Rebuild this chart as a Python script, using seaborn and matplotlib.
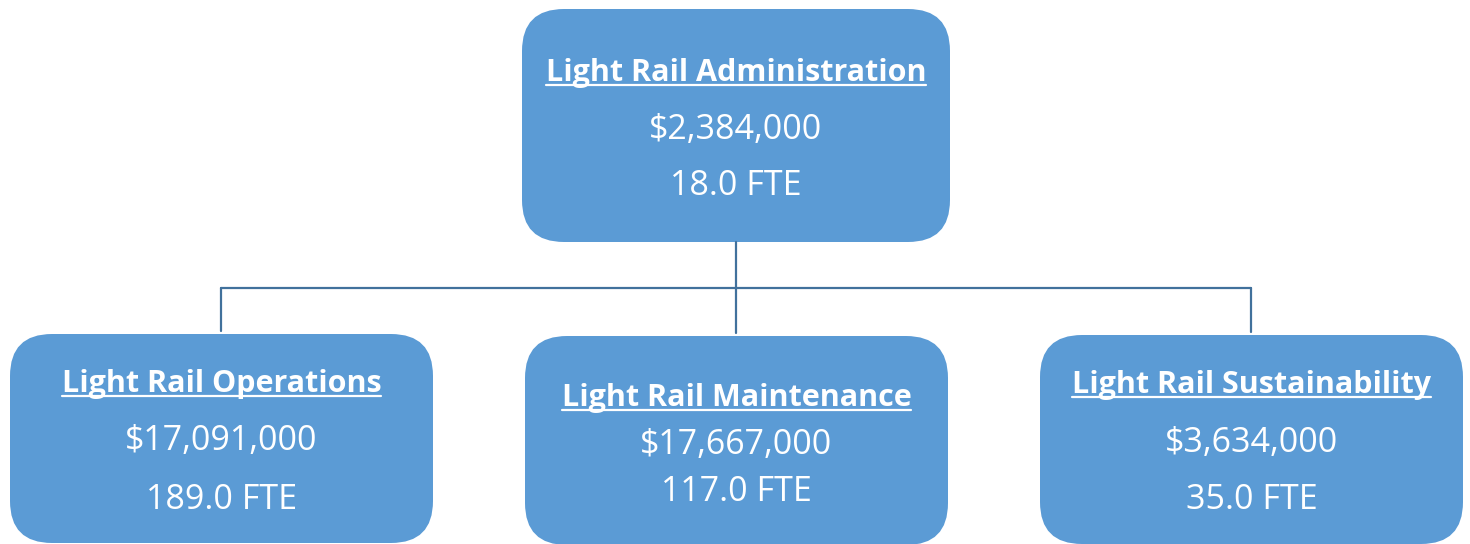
import matplotlib
matplotlib.use("Agg")
import matplotlib.pyplot as plt
from matplotlib.patches import FancyBboxPatch
import seaborn as sns

# --- data ---
units = ["Light Rail Administration", "Light Rail Operations",
         "Light Rail Maintenance", "Light Rail Sustainability"]
budgets = [2384000, 17091000, 17667000, 3634000]
ftes = [18.0, 189.0, 117.0, 35.0]
parent = [None, 0, 0, 0]

# --- layout (pixel space) ---
box_w, box_h = 428, 233
child_w, child_h = 423, 209
box_x = [522, 10, 525, 1040]
box_y = [9, 334, 336, 335]
# baselines of title / amount / FTE relative to box top
line_off = [(72, 130, 186), (58, 116, 175), (70, 118, 165), (58, 117, 174)]
bus_y = 288

box_color = "#5B9BD5"
line_color = "#41719C"

sns.set_theme(style="white")
plt.rcParams["font.family"] = ["Open Sans", "DejaVu Sans"]

fig = plt.figure(figsize=(14.7, 5.44), dpi=100)
ax = fig.add_axes([0, 0, 1, 1])
ax.set_xlim(0, 1470)
ax.set_ylim(544, 0)
ax.axis("off")

# --- connectors ---
top_cx = box_x[0] + box_w / 2
ax.plot([top_cx, top_cx], [box_y[0] + box_h, bus_y], color=line_color, lw=1.6)
child_cx = [box_x[i] + child_w / 2 for i in range(1, 4)]
ax.plot([min(child_cx), max(child_cx)], [bus_y, bus_y], color=line_color, lw=1.6)
for i, cx in zip(range(1, 4), child_cx):
    ax.plot([cx, cx], [bus_y, box_y[i] - 3], color=line_color, lw=1.6)

# --- boxes and text ---
titles = []
for i, name in enumerate(units):
    w, h = (box_w, box_h) if parent[i] is None else (child_w, child_h)
    ax.add_patch(FancyBboxPatch((box_x[i], box_y[i]), w, h,
                                boxstyle="round,pad=0,rounding_size=42",
                                facecolor=box_color, edgecolor="none"))
    cx = box_x[i] + w / 2
    o = line_off[i]
    t = ax.text(cx, box_y[i] + o[0], name, ha="center", va="baseline",
                color="white", fontsize=22, fontweight="bold")
    titles.append(t)
    ax.text(cx, box_y[i] + o[1], f"${budgets[i]:,.0f}", ha="center",
            va="baseline", color="white", fontsize=24.5)
    ax.text(cx, box_y[i] + o[2], f"{ftes[i]:.1f} FTE", ha="center",
            va="baseline", color="white", fontsize=24.5)

# underline the titles
fig.canvas.draw()
inv = ax.transData.inverted()
for i, t in enumerate(titles):
    bb = t.get_window_extent()
    x0, _ = inv.transform((bb.x0, bb.y0))
    x1, _ = inv.transform((bb.x1, bb.y0))
    y = box_y[i] + line_off[i][0] + 4
    ax.plot([x0, x1], [y, y], color="white", lw=1.6)

fig.savefig("out.png", dpi=100)
